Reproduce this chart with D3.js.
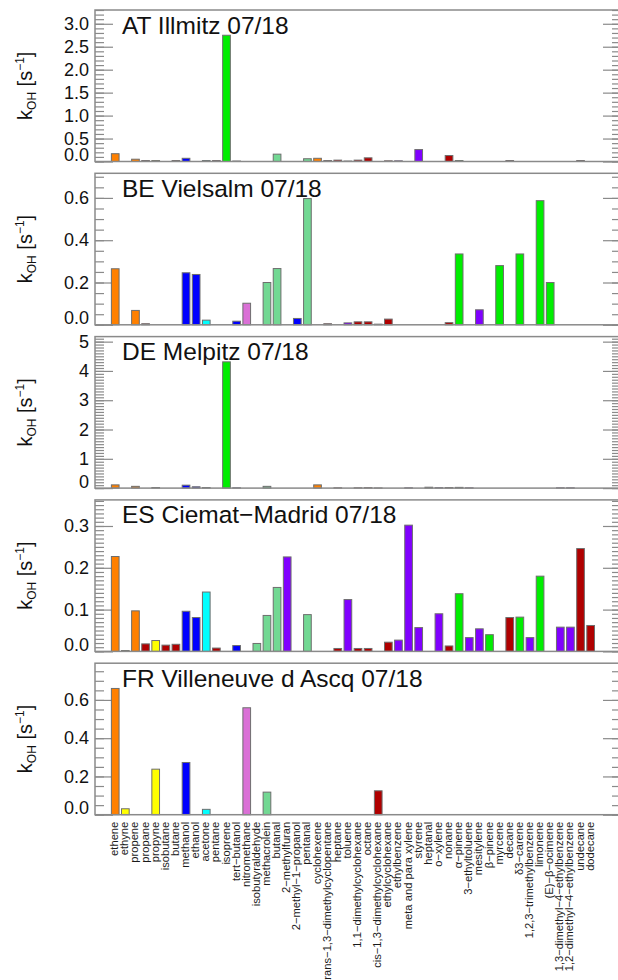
<!DOCTYPE html>
<html lang="en">
<head>
    <meta charset="utf-8">
    <style>
        body { margin: 0; background: #fff; }
        svg { display: block; font-family: "Liberation Sans", Arial, sans-serif; }
    </style>
</head>
<body>
    <svg width="618" height="980"></svg>
    <script src="https://cdn.jsdelivr.net/npm/d3@7"></script>
    <script>
        // Compounds along the x axis
        const categories = [
            "ethene", "ethyne", "propene", "propane", "propyne", "isobutane", "butane", "methanol",
            "ethanol", "acetone", "pentane", "isoprene", "tert−butanol", "nitromethane",
            "isobutyraldehyde", "methacrolein", "butanal", "2−methylfuran", "2−methyl−1−propanol",
            "pentanal", "cyclohexene", "trans−1,3−dimethylcyclopentane", "heptane", "toluene",
            "1,1−dimethylcyclohexane", "octane", "cis−1,3−dimethylcyclohexane", "ethylcyclohexane",
            "ethylbenzene", "meta and para xylene", "styrene", "heptanal", "o−xylene", "nonane",
            "α−pinene", "3−ethyltoluene", "mesitylene", "β−pinene", "myrcene", "decane", "δ3−carene",
            "1,2,3−trimethylbenzene", "limonene", "(E)−β−ocimene", "1,3−dimethyl−4−ethylbenzene",
            "1,2−dimethyl−4−ethylbenzene", "undecane", "dodecane"
        ];

        // Compound class of each category (drives bar colour)
        const compoundClass = [
            "alkene", "alkyne", "alkene", "alkane", "alkyne", "alkane", "alkane", "alcohol",
            "alcohol", "ketone", "alkane", "terpene", "alcohol", "nitro",
            "aldehyde", "aldehyde", "aldehyde", "aromatic", "alcohol",
            "aldehyde", "alkene", "alkane", "alkane", "aromatic",
            "alkane", "alkane", "alkane", "alkane",
            "aromatic", "aromatic", "aromatic", "aldehyde", "aromatic", "alkane",
            "terpene", "aromatic", "aromatic", "terpene", "terpene", "alkane", "terpene",
            "aromatic", "terpene", "terpene", "aromatic",
            "aromatic", "alkane", "alkane"
        ];

        const sites = ["AT Illmitz 07/18", "BE Vielsalm 07/18", "DE Melpitz 07/18",
                       "ES Ciemat−Madrid 07/18", "FR Villeneuve d Ascq 07/18"];

        // OH reactivity per compound [s-1], null = not measured
        const kAT = [0.17, null, 0.05, 0.02, 0.02, null, 0.02, 0.07, null, 0.02,
                     0.02, 2.75, 0.01, null, null, null, 0.16, null, null, 0.06,
                     0.07, 0.02, 0.03, 0.01, 0.03, 0.08, null, 0.015, 0.015, null,
                     0.26, null, null, 0.13, 0.02, null, null, null, null, 0.02,
                     null, null, null, null, null, null, 0.02, null];
        const kBE = [0.265, null, 0.068, 0.005, null, null, null, 0.246, 0.238, 0.022,
                     null, null, 0.017, 0.102, null, 0.2, 0.266, null, 0.03, 0.597,
                     null, 0.005, null, 0.009, 0.014, 0.014, 0.003, 0.027, null, null,
                     null, null, null, 0.01, 0.335, null, 0.071, null, 0.28, null,
                     0.335, null, 0.587, 0.2, null, null, null, null];
        const kDE = [0.11, null, 0.06, null, 0.02, null, null, 0.1, 0.045, 0.02,
                     null, 4.31, 0.01, null, null, 0.06, null, null, null, null,
                     0.11, null, 0.01, null, 0.01, 0.015, 0.005, null, null, 0.01,
                     null, 0.03, 0.015, 0.02, 0.025, 0.01, null, null, null, null,
                     null, null, null, null, 0.01, 0.01, null, null];
        const kES = [0.227, 0.002, 0.097, 0.018, 0.026, 0.015, 0.017, 0.096, 0.081, 0.142,
                     0.008, null, 0.014, null, 0.019, 0.086, 0.153, 0.226, null, 0.088,
                     null, null, 0.007, 0.124, 0.007, 0.007, null, 0.022, 0.027, 0.302,
                     0.057, null, 0.09, 0.013, 0.138, 0.033, 0.054, 0.04, null, 0.081,
                     0.082, 0.033, 0.18, null, 0.058, 0.058, 0.246, 0.062];
        const kFR = [0.66, 0.031, null, null, 0.238, null, null, 0.273, null, 0.028,
                     null, null, null, 0.559, null, 0.118, null, null, null, null,
                     null, null, null, null, null, null, 0.125, null, null, null,
                     null, null, null, null, null, null, null, null, null, null,
                     null, null, null, null, null, null, null, null];

        // y tick spacing per panel
        const majorSteps = [0.5, 0.2, 1, 0.1, 0.2];
        const minorSteps = [0.1, 0.05, 0.1, 0.01, 0.05];
        const tickDecimals = [1, 1, 0, 1, 1];

        const panels = sites.map((site, k) => ({
            site: site,
            values: [kAT, kBE, kDE, kES, kFR][k],
            major: majorSteps[k],
            minor: minorSteps[k],
            decimals: tickDecimals[k]
        }));

        const color = d3.scaleOrdinal()
            .domain(["alkene", "alkyne", "alkane", "alcohol", "ketone", "terpene", "nitro", "aldehyde", "aromatic"])
            .range(["#ff8000", "#ffff00", "#b00000", "#0000ff", "#00ffff", "#00ee00", "#da70d6", "#72d893", "#8000ff"]);

        const svg = d3.select("svg");
        const left = 95, right = 621;
        const panelTop = 10, panelH = 151.5, panelStep = 163.3;

        const x = d3.scaleLinear().domain([-2, 50]).range([left, right]);
        const barW = (x(1) - x(0)) * 0.76;

        panels.forEach((p, k) => {
            const top = panelTop + k * panelStep;
            const bottom = top + panelH;
            const y = d3.scaleLinear().domain([0, d3.max(p.values) * 1.2]).range([bottom, top]);
            const g = svg.append("g");

            const majors = d3.range(0, y.domain()[1] + 1e-9, p.major);
            const minors = d3.range(0, y.domain()[1] + 1e-9, p.minor);

            // minor ticks, both sides
            g.append("g").attr("transform", `translate(${left},0)`)
                .call(d3.axisLeft(y).tickValues(minors).tickSize(-9).tickFormat(""));
            g.append("g").attr("transform", `translate(${right},0)`)
                .call(d3.axisRight(y).tickValues(minors).tickSize(-9).tickFormat(""));
            // major ticks with labels on the left
            const ax = g.append("g").attr("transform", `translate(${left},0)`)
                .call(d3.axisLeft(y).tickValues(majors).tickSize(-18).tickPadding(6)
                    .tickFormat(d3.format(`.${p.decimals}f`)));
            g.append("g").attr("transform", `translate(${right},0)`)
                .call(d3.axisRight(y).tickValues(majors).tickSize(-18).tickFormat(""));

            g.selectAll(".domain").remove();
            g.selectAll(".tick line").attr("stroke", "#8a8a8a").attr("stroke-width", 1.2);
            ax.selectAll("text")
                .attr("font-size", 18).attr("fill", "#111")
                .attr("font-family", "Liberation Sans, Arial, sans-serif");
            // lowest label sits just above the axis, as in the original
            ax.selectAll(".tick").filter(d => d === 0).select("text").attr("dy", "-1px");

            // bars
            const rows = p.values.map((v, i) => ({ i: i, v: v })).filter(d => d.v !== null);
            g.selectAll("rect.bar").data(rows).enter()
                .append("rect")
                .attr("class", "bar")
                .attr("x", d => x(d.i) - barW / 2)
                .attr("y", d => y(d.v))
                .attr("width", barW)
                .attr("height", d => y(0) - y(d.v))
                .attr("fill", d => color(compoundClass[d.i]))
                .attr("stroke", "#6e6e6e")
                .attr("stroke-width", 1);

            // frame
            g.append("rect")
                .attr("x", left).attr("y", top)
                .attr("width", right - left).attr("height", panelH)
                .attr("fill", "none").attr("stroke", "#8a8a8a").attr("stroke-width", 1.5);

            // site title
            g.append("text")
                .attr("x", 122).attr("y", top + 23.5)
                .attr("font-size", 24.5).attr("fill", "#111")
                .text(p.site);

            // y axis title: k_OH [s^-1]
            const t = g.append("text")
                .attr("transform", `translate(32,${(top + bottom) / 2}) rotate(-90)`)
                .attr("text-anchor", "middle")
                .attr("font-size", 20).attr("fill", "#111");
            t.append("tspan").text("k");
            t.append("tspan").attr("font-size", 12).attr("dy", 4).text("OH");
            t.append("tspan").attr("dy", -4).text(" [s");
            t.append("tspan").attr("font-size", 12).attr("dy", -8).text("−1");
            t.append("tspan").attr("dy", 8).text("]");
        });

        // category labels under the last panel
        const lastBottom = panelTop + (panels.length - 1) * panelStep + panelH;
        svg.append("g").selectAll("text")
            .data(categories).enter()
            .append("text")
            .attr("transform", (d, i) => `translate(${x(i) - 1},${lastBottom + 7}) rotate(-90)`)
            .attr("text-anchor", "end")
            .attr("dominant-baseline", "central")
            .attr("font-size", 11.2).attr("fill", "#1a1a1a")
            .text(d => d);
    </script>
</body>
</html>
